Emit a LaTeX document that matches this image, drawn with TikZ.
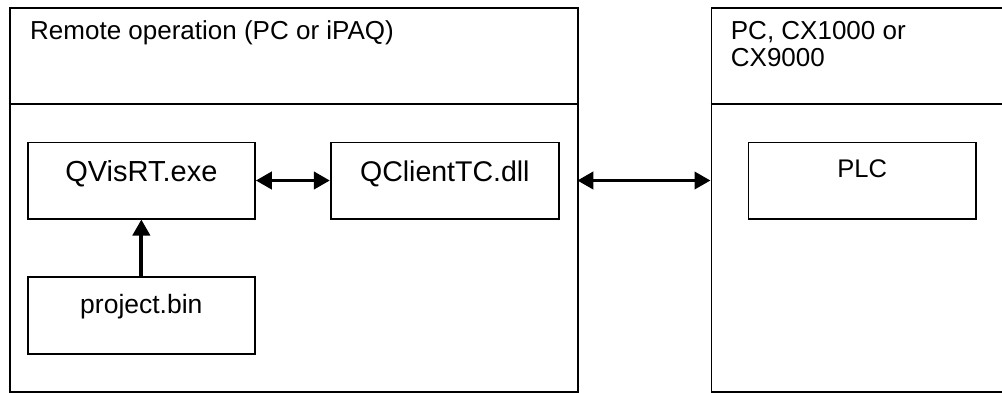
\documentclass[tikz,border=0pt]{standalone}
\usepackage{fontspec}
\setmainfont{Liberation Sans}
\usetikzlibrary{arrows.meta}
\begin{document}
\begin{tikzpicture}[x=1pt,y=-1pt,
  outer/.style={draw, line width=1.8pt, inner sep=0pt, anchor=north west},
  box/.style={draw, line width=1.6pt, inner sep=0pt, minimum height=76.4pt},
  txt/.style={font=\fontsize{#1}{#1}\selectfont, inner sep=0pt, anchor=base},
  ttl/.style={font=\fontsize{26}{29}\selectfont, inner sep=0pt, anchor=base west},
  link/.style={line width=3.8pt, {Triangle[length=16pt,width=17pt]}-{Triangle[length=16pt,width=17pt]}},
  feed/.style={line width=3.8pt, -{Triangle[length=16pt,width=17pt]}}]
\useasboundingbox (0,0) rectangle (1002,392);
% outer frames
\node[outer, minimum width=568.6pt, minimum height=384.3pt] (leftbox) at (8.7,7) {};
\node[outer, minimum width=310pt, minimum height=384.3pt] (rightbox) at (710.5,7) {};
\coordinate (ldivL) at (8.7,104);
\coordinate (ldivR) at (577.3,104);
\coordinate (rdivL) at (710.5,104);
\coordinate (rdivR) at (1020,104);
\draw[line width=1.8pt] (ldivL) -- (ldivR);
\draw[line width=1.8pt] (rdivL) -- (rdivR);
% titles
\node[ttl] (ltitle) at (30,39) {Remote operation (PC or iPAQ)};
\node[ttl] (rtitle1) at (730.7,39) {PC, CX1000 or};
\node[ttl] (rtitle2) at (730.7,66) {CX9000};
% inner boxes
\node[box, minimum width=227.3pt] (qvis) at (141.35,180.5) {};
\node[box, minimum width=228.3pt] (qcli) at (444.85,180.5) {};
\node[box, minimum width=227.3pt, minimum height=77.3pt] (proj) at (141.35,315.35) {};
\node[box, minimum width=227.7pt] (plc) at (862.15,180.5) {};
% box texts
\node[txt=29] (qvist) at (141.35,181) {QVisRT.exe};
\node[txt=28.5] (qclit) at (444.85,181) {QClientTC.dll};
\node[txt=26.5] (projt) at (141.35,313) {project.bin};
\node[txt=25.5] (plct) at (862.15,177) {PLC};
% connectors
\draw[link] (qvis.east) -- (qcli.west);
\draw[link] (ldivR |- qcli.east) -- (rdivL |- qcli.east);
\draw[feed] (proj.north) -- (qvis.south);
\end{tikzpicture}
\end{document}
